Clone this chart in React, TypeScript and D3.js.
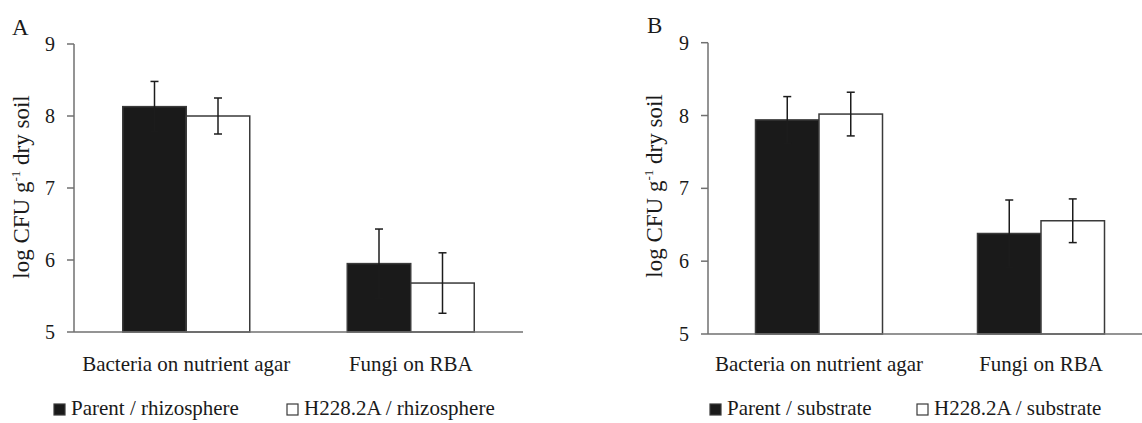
import React from "react";
import * as d3 from "d3";

const categories = ["Bacteria on nutrient agar", "Fungi on RBA"];
const yTicks = [5, 6, 7, 8, 9];

const seriesA = ["Parent / rhizosphere", "H228.2A / rhizosphere"];
const parentA = [8.13, 5.95];
const parentAErr = [0.35, 0.48];
const mutantA = [8.0, 5.68];
const mutantAErr = [0.25, 0.42];

const seriesB = ["Parent / substrate", "H228.2A / substrate"];
const parentB = [7.94, 6.38];
const parentBErr = [0.32, 0.46];
const mutantB = [8.02, 6.555];
const mutantBErr = [0.3, 0.3];

const FONT = "'Liberation Serif', 'Times New Roman', serif";
const AXIS = "#707070";
const TEXT = "#1a1a1a";
const FILLS = ["#1a1a1a", "#ffffff"];

type PanelProps = {
  letter: string;
  letterX: number;
  letterY: number;
  x0: number;
  x1: number;
  yBottom: number;
  yTop: number;
  titleX: number;
  titleY: number;
  series: string[];
  values: number[][];
  errors: number[][];
  legendX: number[];
};

function Panel(p: PanelProps) {
  const y = d3.scaleLinear().domain([5, 9]).range([p.yBottom, p.yTop]);
  const x = d3.scaleBand<string>().domain(categories).range([p.x0, p.x1]).paddingInner(0).paddingOuter(0);
  const groupW = 127;
  const legendY = 415;
  return (
    <g>
      <text x={p.letterX} y={p.letterY} fontSize={23} fontFamily={FONT} fill={TEXT}>{p.letter}</text>
      {/* y axis */}
      <line x1={p.x0} x2={p.x0} y1={y(5)} y2={y(9)} stroke={AXIS} strokeWidth={1.5} />
      {yTicks.map((t) => (
        <g key={t}>
          <line x1={p.x0 - 7} x2={p.x0} y1={y(t)} y2={y(t)} stroke={AXIS} strokeWidth={1.5} />
          <text x={p.x0 - 19} y={y(t)} dy="0.35em" textAnchor="end" fontSize={20} fontFamily={FONT} fill={TEXT}>{t}</text>
        </g>
      ))}
      <text transform={`translate(${p.titleX},${p.titleY}) rotate(-90)`} textAnchor="middle" fontSize={23} fontFamily={FONT} fill={TEXT}>
        log CFU g<tspan dy={-9} fontSize={13}>-1</tspan><tspan dy={9}> dry soil</tspan>
      </text>
      {/* bars */}
      {categories.map((c, ci) => {
        const center = (x(c) as number) + x.bandwidth() / 2;
        const inner = d3.scaleBand<string>().domain(p.series).range([center - groupW / 2, center + groupW / 2]);
        return (
          <g key={c}>
            {p.series.map((s, si) => {
              const v = p.values[si][ci];
              const e = p.errors[si][ci];
              const bx = inner(s) as number;
              const bw = inner.bandwidth();
              const cx = bx + bw / 2;
              return (
                <g key={s}>
                  <rect x={bx} y={y(v)} width={bw} height={y(5) - y(v)} fill={FILLS[si]} stroke="#3a3a3a" strokeWidth={1.5} />
                  <line x1={cx} x2={cx} y1={y(v + e)} y2={y(v - e)} stroke="#1c1c1c" strokeWidth={1.5} />
                  <line x1={cx - 4} x2={cx + 4} y1={y(v + e)} y2={y(v + e)} stroke="#1c1c1c" strokeWidth={1.5} />
                  <line x1={cx - 4} x2={cx + 4} y1={y(v - e)} y2={y(v - e)} stroke="#1c1c1c" strokeWidth={1.5} />
                </g>
              );
            })}
            <text x={center} y={371} textAnchor="middle" fontSize={21} fontFamily={FONT} fill={TEXT}>{c}</text>
          </g>
        );
      })}
      {/* x axis */}
      <line x1={p.x0} x2={p.x1} y1={y(5)} y2={y(5)} stroke={AXIS} strokeWidth={1.5} />
      {/* legend */}
      {p.series.map((s, si) => (
        <g key={s}>
          <rect x={p.legendX[si]} y={legendY - 11} width={11} height={11} fill={FILLS[si]} stroke="#3a3a3a" strokeWidth={1.2} />
          <text x={p.legendX[si] + 17} y={legendY} fontSize={21} fontFamily={FONT} fill={TEXT}>{s}</text>
        </g>
      ))}
    </g>
  );
}

export default function App() {
  return (
    <svg width={1142} height={423} style={{ position: "absolute", left: 0, top: 0, background: "#fff" }}>
      <rect width={1142} height={423} fill="#fff" />
      <Panel letter="A" letterX={12} letterY={35} x0={74} x1={523} yBottom={332} yTop={44} titleX={29} titleY={187}
        series={seriesA} values={[parentA, mutantA]} errors={[parentAErr, mutantAErr]} legendX={[54, 287]} />
      <Panel letter="B" letterX={647} letterY={33} x0={708} x1={1152} yBottom={334} yTop={42.7} titleX={662} titleY={186}
        series={seriesB} values={[parentB, mutantB]} errors={[parentBErr, mutantBErr]} legendX={[710, 917]} />
    </svg>
  );
}
